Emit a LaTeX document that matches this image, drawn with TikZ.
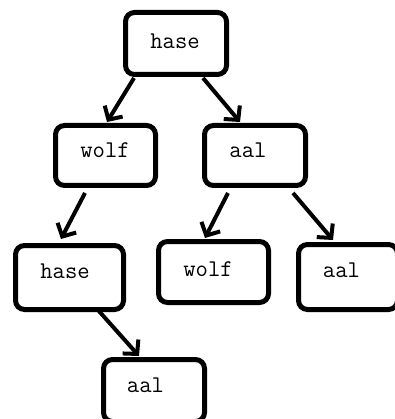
\documentclass[tikz,border=0pt]{standalone}
\usepackage{fontspec}
\usetikzlibrary{arrows.meta,calc}
\begin{document}
\begin{tikzpicture}[x=1pt,y=-1pt,
  box/.style={draw=black,line width=5pt,rounded corners=9pt,outer sep=0pt,inner sep=0pt,fill=white},
  txt/.style={anchor=base,inner sep=0pt,font=\ttfamily\fontsize{24}{28}\selectfont},
  arr/.style={line width=4pt,-{Straight Barb[length=10pt,width=21pt,line width=4pt]}}]
\useasboundingbox (0,0) rectangle (394,419);
\node[box,minimum width=101pt,minimum height=62pt] (n1) at (176,43.5) {};
\node[box,minimum width=100pt,minimum height=60pt] (n2) at (105.5,155.5) {};
\node[box,minimum width=101pt,minimum height=60pt] (n3) at (255,155.5) {};
\node[box,minimum width=108pt,minimum height=64pt] (n4) at (69.5,277.5) {};
\node[box,minimum width=110pt,minimum height=61pt] (n5) at (213.5,272) {};
\node[box,minimum width=99pt,minimum height=65pt] (n6) at (348,277) {};
\node[box,minimum width=101pt,minimum height=62pt] (n7) at (154,390.5) {};
\node[txt] (t1) at (175,49) {hase};
\node[txt] (t2) at (105,158) {wolf};
\node[txt] (t3) at (248,158) {aal};
\node[txt] (t4) at (65,278) {hase};
\node[txt] (t5) at (208,276) {wolf};
\node[txt] (t6) at (341.5,277) {aal};
\node[txt] (t7) at (145.5,392) {aal};
\draw[arr] ($(n1.center)+(-42,34.5)$) -- ($(n2.center)+(1.5,-33.5)$);
\draw[arr] ($(n1.center)+(27,34.5)$) -- ($(n3.center)+(-15,-33.5)$);
\draw[arr] ($(n2.center)+(-20.5,37.5)$) -- ($(n4.center)+(-8.5,-38.5)$);
\draw[arr] ($(n3.center)+(-27,37.5)$) -- ($(n5.center)+(-8.5,-34)$);
\draw[arr] ($(n3.center)+(38,37.5)$) -- ($(n6.center)+(-15,-37)$);
\draw[arr] ($(n4.center)+(28.5,32.5)$) -- ($(n7.center)+(-15,-34.5)$);
\end{tikzpicture}
\end{document}
